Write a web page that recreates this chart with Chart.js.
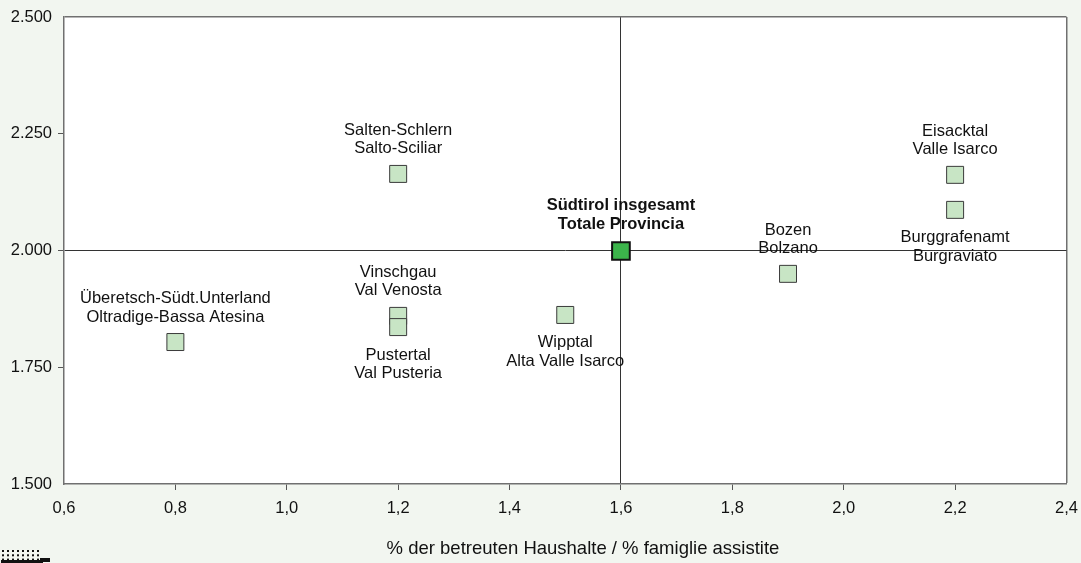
<!DOCTYPE html>
<html>
<head>
<meta charset="utf-8">
<script src="https://cdn.jsdelivr.net/npm/chart.js@4/dist/chart.umd.min.js"></script>
<style>
  html, body { margin: 0; padding: 0; background: #f2f6f0; }
  #wrap { width: 1081px; height: 563px; }
</style>
</head>
<body>
<div id="wrap"><canvas id="chart" width="1081" height="563"></canvas></div>
<script>
// districts: label lines, x = % assisted households, y = value
const regionNames = [
  ['Salten-Schlern', 'Salto-Sciliar'],
  ['Eisacktal', 'Valle Isarco'],
  ['Burggrafenamt', 'Burgraviato'],
  ['Bozen', 'Bolzano'],
  ['Vinschgau', 'Val Venosta'],
  ['Pustertal', 'Val Pusteria'],
  ['Wipptal', 'Alta Valle Isarco'],
  ['Überetsch-Südt.Unterland', 'Oltradige-Bassa Atesina']
];
const regionX = [1.2, 2.2, 2.2, 1.9, 1.2, 1.2, 1.5, 0.8];
const regionY = [2164, 2162, 2087, 1950, 1860, 1836, 1862, 1804];
const labelSide = ['above', 'above', 'below', 'above', 'above', 'below', 'below', 'above'];

const totalName = ['Südtirol insgesamt', 'Totale Provincia'];
const totalX = [1.6];
const totalY = [1999];

const xTicks = [0.6, 0.8, 1.0, 1.2, 1.4, 1.6, 1.8, 2.0, 2.2, 2.4];
const yTicks = [1500, 1750, 2000, 2250, 2500];
const xTitle = '% der betreuten Haushalte / % famiglie assistite';

const FONT = "'Liberation Sans', Arial, sans-serif";
const near = (a, b) => Math.abs(a - b) < 1e-6;

const bgPlugin = {
  id: 'bg',
  beforeDraw(chart) {
    const { ctx, chartArea: a } = chart;
    ctx.save();
    ctx.fillStyle = '#f2f6f0';
    ctx.fillRect(0, 0, chart.width, chart.height);
    ctx.fillStyle = '#ffffff';
    ctx.fillRect(a.left, a.top, a.right - a.left, a.bottom - a.top);
    ctx.restore();
  }
};

const labelPlugin = {
  id: 'labels',
  afterDatasetsDraw(chart) {
    const ctx = chart.ctx;
    ctx.save();
    ctx.textAlign = 'center';
    ctx.textBaseline = 'middle';
    ctx.fillStyle = '#111111';
    const lh = 18.5;
    chart.getDatasetMeta(0).data.forEach((pt, i) => {
      const lines = regionNames[i];
      ctx.font = '16.5px ' + FONT;
      if (labelSide[i] === 'above') {
        ctx.fillText(lines[0], pt.x, pt.y - 25 - lh);
        ctx.fillText(lines[1], pt.x, pt.y - 25);
      } else {
        ctx.fillText(lines[0], pt.x, pt.y + 28);
        ctx.fillText(lines[1], pt.x, pt.y + 28 + lh);
      }
    });
    const t = chart.getDatasetMeta(1).data[0];
    ctx.font = 'bold 16.5px ' + FONT;
    ctx.fillText(totalName[0], t.x, t.y - 27 - lh);
    ctx.fillText(totalName[1], t.x, t.y - 27);

    // axis title
    ctx.font = '18.5px ' + FONT;
    ctx.fillText(xTitle, 583, 549);

    // small logo bottom left
    ctx.fillStyle = '#111';
    for (let r = 0; r < 3; r++) {
      for (let c = 0; c < 8; c++) {
        ctx.fillRect(2 + c * 5, 550 + r * 4.3, 2, 2);
      }
    }
    ctx.fillRect(1, 560, 42, 3);
    ctx.fillRect(40, 558, 10, 4);
    ctx.restore();
  }
};

new Chart(document.getElementById('chart'), {
  type: 'scatter',
  data: {
    datasets: [
      {
        label: 'Bezirke',
        data: regionX.map((x, i) => ({ x: x, y: regionY[i] })),
        pointStyle: 'rect',
        pointRadius: 12,
        pointHoverRadius: 12,
        backgroundColor: '#c8e5c5',
        borderColor: '#3a3a3a',
        borderWidth: 1
      },
      {
        label: 'Südtirol',
        data: totalX.map((x, i) => ({ x: x, y: totalY[i] })),
        pointStyle: 'rect',
        pointRadius: 12.5,
        pointHoverRadius: 12.5,
        backgroundColor: '#3cb44b',
        borderColor: '#111111',
        borderWidth: 2
      }
    ]
  },
  options: {
    responsive: false,
    animation: false,
    layout: { padding: { top: 17, right: 14, left: 0, bottom: 0 } },
    plugins: { legend: { display: false }, tooltip: { enabled: false } },
    scales: {
      x: {
        type: 'linear',
        min: xTicks[0],
        max: xTicks[xTicks.length - 1],
        afterBuildTicks: s => { s.ticks = xTicks.map(v => ({ value: v })); },
        afterFit: s => { s.height = 79; s.paddingLeft = 0; s.paddingRight = 14; },
        border: { color: '#707070', width: 1.5 },
        grid: {
          color: c => near(c.tick.value, 1.6) ? '#333333' : (near(c.tick.value, 2.4) ? '#707070' : 'rgba(0,0,0,0)'),
          lineWidth: c => near(c.tick.value, 2.4) ? 1.5 : 1,
          tickColor: c => (near(c.tick.value, 0.6) || near(c.tick.value, 2.4)) ? 'rgba(0,0,0,0)' : '#555555',
          tickLength: 6
        },
        ticks: {
          padding: 9,
          color: '#111111',
          font: { family: FONT, size: 16.5 },
          callback: v => v.toFixed(1).replace('.', ',')
        }
      },
      y: {
        type: 'linear',
        min: yTicks[0],
        max: yTicks[yTicks.length - 1],
        afterBuildTicks: s => { s.ticks = yTicks.map(v => ({ value: v })); },
        afterFit: s => { s.width = 64; },
        border: { color: '#707070', width: 1.5 },
        grid: {
          color: c => c.tick.value === 2000 ? '#333333' : (c.tick.value === 2500 ? '#707070' : 'rgba(0,0,0,0)'),
          lineWidth: c => c.tick.value === 2500 ? 1.5 : 1,
          tickColor: c => (c.tick.value === 1500 || c.tick.value === 2500) ? 'rgba(0,0,0,0)' : '#555555',
          tickLength: 6
        },
        ticks: {
          padding: 6,
          color: '#111111',
          font: { family: FONT, size: 16.5 },
          callback: v => String(v).replace(/(\d)(\d{3})$/, '$1.$2')
        }
      }
    }
  },
  plugins: [bgPlugin, labelPlugin]
});
</script>
</body>
</html>
